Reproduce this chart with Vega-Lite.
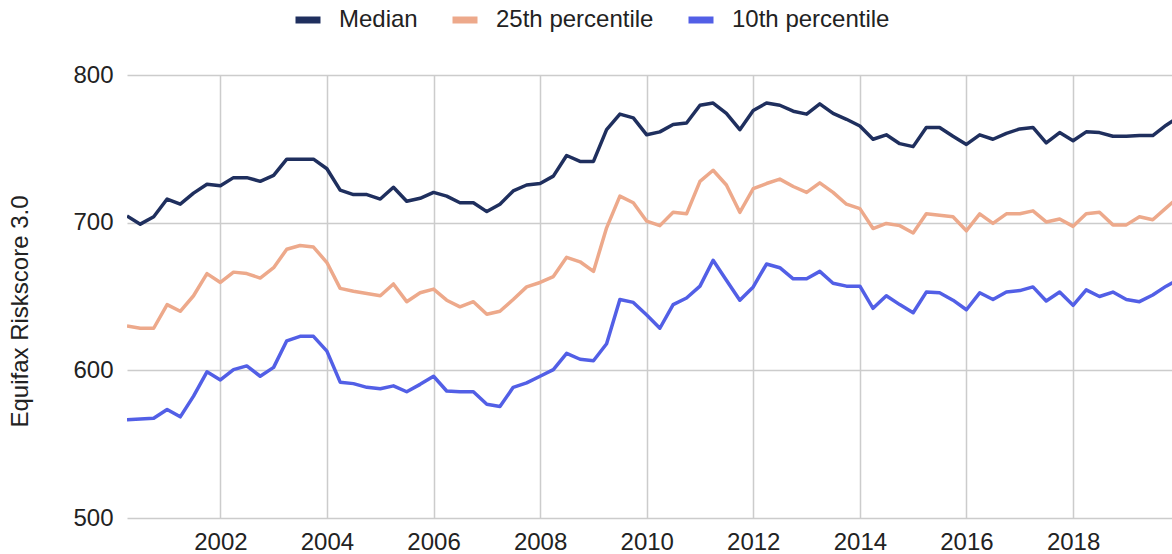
{
  "$schema": "https://vega.github.io/schema/vega-lite/v6.json",
  "width": 1045,
  "height": 443,
  "autosize": {"type": "none"},
  "padding": {"left": 127, "top": 75, "right": 0, "bottom": 36},
  "background": "white",
  "config": {
    "view": {"stroke": null},
    "font": "Liberation Sans",
    "axis": {"labelFont": "Liberation Sans", "titleFont": "Liberation Sans", "labelColor": "#222222", "titleColor": "#222222", "gridColor": "#cccccc", "gridWidth": 1.5}
  },
  "data": {
    "values": [
      {"date": "2000-04-01T00:00:00", "series": "Median", "value": 704.5},
      {"date": "2000-07-01T00:00:00", "series": "Median", "value": 699},
      {"date": "2000-10-01T00:00:00", "series": "Median", "value": 704},
      {"date": "2001-01-01T00:00:00", "series": "Median", "value": 716},
      {"date": "2001-04-01T00:00:00", "series": "Median", "value": 712.5},
      {"date": "2001-07-01T00:00:00", "series": "Median", "value": 720},
      {"date": "2001-10-01T00:00:00", "series": "Median", "value": 726},
      {"date": "2002-01-01T00:00:00", "series": "Median", "value": 725},
      {"date": "2002-04-01T00:00:00", "series": "Median", "value": 730.5},
      {"date": "2002-07-01T00:00:00", "series": "Median", "value": 730.5},
      {"date": "2002-10-01T00:00:00", "series": "Median", "value": 728},
      {"date": "2003-01-01T00:00:00", "series": "Median", "value": 732},
      {"date": "2003-04-01T00:00:00", "series": "Median", "value": 743},
      {"date": "2003-07-01T00:00:00", "series": "Median", "value": 743},
      {"date": "2003-10-01T00:00:00", "series": "Median", "value": 743},
      {"date": "2004-01-01T00:00:00", "series": "Median", "value": 736.5},
      {"date": "2004-04-01T00:00:00", "series": "Median", "value": 722},
      {"date": "2004-07-01T00:00:00", "series": "Median", "value": 719},
      {"date": "2004-10-01T00:00:00", "series": "Median", "value": 719},
      {"date": "2005-01-01T00:00:00", "series": "Median", "value": 716},
      {"date": "2005-04-01T00:00:00", "series": "Median", "value": 724},
      {"date": "2005-07-01T00:00:00", "series": "Median", "value": 714.5},
      {"date": "2005-10-01T00:00:00", "series": "Median", "value": 716.5},
      {"date": "2006-01-01T00:00:00", "series": "Median", "value": 720.5},
      {"date": "2006-04-01T00:00:00", "series": "Median", "value": 718},
      {"date": "2006-07-01T00:00:00", "series": "Median", "value": 713.5},
      {"date": "2006-10-01T00:00:00", "series": "Median", "value": 713.5},
      {"date": "2007-01-01T00:00:00", "series": "Median", "value": 707.5},
      {"date": "2007-04-01T00:00:00", "series": "Median", "value": 712.5},
      {"date": "2007-07-01T00:00:00", "series": "Median", "value": 721.5},
      {"date": "2007-10-01T00:00:00", "series": "Median", "value": 725.5},
      {"date": "2008-01-01T00:00:00", "series": "Median", "value": 726.5},
      {"date": "2008-04-01T00:00:00", "series": "Median", "value": 731.5},
      {"date": "2008-07-01T00:00:00", "series": "Median", "value": 745.5},
      {"date": "2008-10-01T00:00:00", "series": "Median", "value": 741.5},
      {"date": "2009-01-01T00:00:00", "series": "Median", "value": 741.5},
      {"date": "2009-04-01T00:00:00", "series": "Median", "value": 763},
      {"date": "2009-07-01T00:00:00", "series": "Median", "value": 773.5},
      {"date": "2009-10-01T00:00:00", "series": "Median", "value": 771},
      {"date": "2010-01-01T00:00:00", "series": "Median", "value": 759.5},
      {"date": "2010-04-01T00:00:00", "series": "Median", "value": 761.5},
      {"date": "2010-07-01T00:00:00", "series": "Median", "value": 766.5},
      {"date": "2010-10-01T00:00:00", "series": "Median", "value": 767.5},
      {"date": "2011-01-01T00:00:00", "series": "Median", "value": 779.5},
      {"date": "2011-04-01T00:00:00", "series": "Median", "value": 781},
      {"date": "2011-07-01T00:00:00", "series": "Median", "value": 774},
      {"date": "2011-10-01T00:00:00", "series": "Median", "value": 763},
      {"date": "2012-01-01T00:00:00", "series": "Median", "value": 776},
      {"date": "2012-04-01T00:00:00", "series": "Median", "value": 781},
      {"date": "2012-07-01T00:00:00", "series": "Median", "value": 779.5},
      {"date": "2012-10-01T00:00:00", "series": "Median", "value": 775.5},
      {"date": "2013-01-01T00:00:00", "series": "Median", "value": 773.5},
      {"date": "2013-04-01T00:00:00", "series": "Median", "value": 780.5},
      {"date": "2013-07-01T00:00:00", "series": "Median", "value": 774},
      {"date": "2013-10-01T00:00:00", "series": "Median", "value": 770},
      {"date": "2014-01-01T00:00:00", "series": "Median", "value": 765.5},
      {"date": "2014-04-01T00:00:00", "series": "Median", "value": 756.5},
      {"date": "2014-07-01T00:00:00", "series": "Median", "value": 759.5},
      {"date": "2014-10-01T00:00:00", "series": "Median", "value": 753.5},
      {"date": "2015-01-01T00:00:00", "series": "Median", "value": 751.5},
      {"date": "2015-04-01T00:00:00", "series": "Median", "value": 764.5},
      {"date": "2015-07-01T00:00:00", "series": "Median", "value": 764.5},
      {"date": "2015-10-01T00:00:00", "series": "Median", "value": 758.5},
      {"date": "2016-01-01T00:00:00", "series": "Median", "value": 753},
      {"date": "2016-04-01T00:00:00", "series": "Median", "value": 759.5},
      {"date": "2016-07-01T00:00:00", "series": "Median", "value": 756.5},
      {"date": "2016-10-01T00:00:00", "series": "Median", "value": 760.5},
      {"date": "2017-01-01T00:00:00", "series": "Median", "value": 763.5},
      {"date": "2017-04-01T00:00:00", "series": "Median", "value": 764.5},
      {"date": "2017-07-01T00:00:00", "series": "Median", "value": 754},
      {"date": "2017-10-01T00:00:00", "series": "Median", "value": 761},
      {"date": "2018-01-01T00:00:00", "series": "Median", "value": 755.5},
      {"date": "2018-04-01T00:00:00", "series": "Median", "value": 761.5},
      {"date": "2018-07-01T00:00:00", "series": "Median", "value": 761},
      {"date": "2018-10-01T00:00:00", "series": "Median", "value": 758.5},
      {"date": "2019-01-01T00:00:00", "series": "Median", "value": 758.5},
      {"date": "2019-04-01T00:00:00", "series": "Median", "value": 759},
      {"date": "2019-07-01T00:00:00", "series": "Median", "value": 759},
      {"date": "2019-10-01T00:00:00", "series": "Median", "value": 766},
      {"date": "2020-01-01T00:00:00", "series": "Median", "value": 772},
      {"date": "2000-04-01T00:00:00", "series": "25th percentile", "value": 630},
      {"date": "2000-07-01T00:00:00", "series": "25th percentile", "value": 628.5},
      {"date": "2000-10-01T00:00:00", "series": "25th percentile", "value": 628.5},
      {"date": "2001-01-01T00:00:00", "series": "25th percentile", "value": 644.5},
      {"date": "2001-04-01T00:00:00", "series": "25th percentile", "value": 640},
      {"date": "2001-07-01T00:00:00", "series": "25th percentile", "value": 650.5},
      {"date": "2001-10-01T00:00:00", "series": "25th percentile", "value": 665.5},
      {"date": "2002-01-01T00:00:00", "series": "25th percentile", "value": 659.5},
      {"date": "2002-04-01T00:00:00", "series": "25th percentile", "value": 666.5},
      {"date": "2002-07-01T00:00:00", "series": "25th percentile", "value": 665.5},
      {"date": "2002-10-01T00:00:00", "series": "25th percentile", "value": 662.5},
      {"date": "2003-01-01T00:00:00", "series": "25th percentile", "value": 669.5},
      {"date": "2003-04-01T00:00:00", "series": "25th percentile", "value": 682},
      {"date": "2003-07-01T00:00:00", "series": "25th percentile", "value": 684.5},
      {"date": "2003-10-01T00:00:00", "series": "25th percentile", "value": 683.5},
      {"date": "2004-01-01T00:00:00", "series": "25th percentile", "value": 673},
      {"date": "2004-04-01T00:00:00", "series": "25th percentile", "value": 655.5},
      {"date": "2004-07-01T00:00:00", "series": "25th percentile", "value": 653.5},
      {"date": "2004-10-01T00:00:00", "series": "25th percentile", "value": 652},
      {"date": "2005-01-01T00:00:00", "series": "25th percentile", "value": 650.5},
      {"date": "2005-04-01T00:00:00", "series": "25th percentile", "value": 658.5},
      {"date": "2005-07-01T00:00:00", "series": "25th percentile", "value": 646.5},
      {"date": "2005-10-01T00:00:00", "series": "25th percentile", "value": 652.5},
      {"date": "2006-01-01T00:00:00", "series": "25th percentile", "value": 655},
      {"date": "2006-04-01T00:00:00", "series": "25th percentile", "value": 647.5},
      {"date": "2006-07-01T00:00:00", "series": "25th percentile", "value": 643},
      {"date": "2006-10-01T00:00:00", "series": "25th percentile", "value": 646.5},
      {"date": "2007-01-01T00:00:00", "series": "25th percentile", "value": 638},
      {"date": "2007-04-01T00:00:00", "series": "25th percentile", "value": 640},
      {"date": "2007-07-01T00:00:00", "series": "25th percentile", "value": 648},
      {"date": "2007-10-01T00:00:00", "series": "25th percentile", "value": 656.5},
      {"date": "2008-01-01T00:00:00", "series": "25th percentile", "value": 659.5},
      {"date": "2008-04-01T00:00:00", "series": "25th percentile", "value": 663.5},
      {"date": "2008-07-01T00:00:00", "series": "25th percentile", "value": 676.5},
      {"date": "2008-10-01T00:00:00", "series": "25th percentile", "value": 673.5},
      {"date": "2009-01-01T00:00:00", "series": "25th percentile", "value": 667},
      {"date": "2009-04-01T00:00:00", "series": "25th percentile", "value": 696.5},
      {"date": "2009-07-01T00:00:00", "series": "25th percentile", "value": 718},
      {"date": "2009-10-01T00:00:00", "series": "25th percentile", "value": 713.5},
      {"date": "2010-01-01T00:00:00", "series": "25th percentile", "value": 701},
      {"date": "2010-04-01T00:00:00", "series": "25th percentile", "value": 698},
      {"date": "2010-07-01T00:00:00", "series": "25th percentile", "value": 707},
      {"date": "2010-10-01T00:00:00", "series": "25th percentile", "value": 706},
      {"date": "2011-01-01T00:00:00", "series": "25th percentile", "value": 728},
      {"date": "2011-04-01T00:00:00", "series": "25th percentile", "value": 735.5},
      {"date": "2011-07-01T00:00:00", "series": "25th percentile", "value": 725.5},
      {"date": "2011-10-01T00:00:00", "series": "25th percentile", "value": 707},
      {"date": "2012-01-01T00:00:00", "series": "25th percentile", "value": 723},
      {"date": "2012-04-01T00:00:00", "series": "25th percentile", "value": 726.5},
      {"date": "2012-07-01T00:00:00", "series": "25th percentile", "value": 729.5},
      {"date": "2012-10-01T00:00:00", "series": "25th percentile", "value": 724.5},
      {"date": "2013-01-01T00:00:00", "series": "25th percentile", "value": 720.5},
      {"date": "2013-04-01T00:00:00", "series": "25th percentile", "value": 727},
      {"date": "2013-07-01T00:00:00", "series": "25th percentile", "value": 720.5},
      {"date": "2013-10-01T00:00:00", "series": "25th percentile", "value": 712.5},
      {"date": "2014-01-01T00:00:00", "series": "25th percentile", "value": 709.5},
      {"date": "2014-04-01T00:00:00", "series": "25th percentile", "value": 696},
      {"date": "2014-07-01T00:00:00", "series": "25th percentile", "value": 699.5},
      {"date": "2014-10-01T00:00:00", "series": "25th percentile", "value": 698},
      {"date": "2015-01-01T00:00:00", "series": "25th percentile", "value": 693},
      {"date": "2015-04-01T00:00:00", "series": "25th percentile", "value": 706},
      {"date": "2015-07-01T00:00:00", "series": "25th percentile", "value": 705},
      {"date": "2015-10-01T00:00:00", "series": "25th percentile", "value": 704},
      {"date": "2016-01-01T00:00:00", "series": "25th percentile", "value": 694.5},
      {"date": "2016-04-01T00:00:00", "series": "25th percentile", "value": 706},
      {"date": "2016-07-01T00:00:00", "series": "25th percentile", "value": 699.5},
      {"date": "2016-10-01T00:00:00", "series": "25th percentile", "value": 706},
      {"date": "2017-01-01T00:00:00", "series": "25th percentile", "value": 706},
      {"date": "2017-04-01T00:00:00", "series": "25th percentile", "value": 708},
      {"date": "2017-07-01T00:00:00", "series": "25th percentile", "value": 700.5},
      {"date": "2017-10-01T00:00:00", "series": "25th percentile", "value": 702.5},
      {"date": "2018-01-01T00:00:00", "series": "25th percentile", "value": 697.5},
      {"date": "2018-04-01T00:00:00", "series": "25th percentile", "value": 706},
      {"date": "2018-07-01T00:00:00", "series": "25th percentile", "value": 707},
      {"date": "2018-10-01T00:00:00", "series": "25th percentile", "value": 698.5},
      {"date": "2019-01-01T00:00:00", "series": "25th percentile", "value": 698.5},
      {"date": "2019-04-01T00:00:00", "series": "25th percentile", "value": 704},
      {"date": "2019-07-01T00:00:00", "series": "25th percentile", "value": 702},
      {"date": "2019-10-01T00:00:00", "series": "25th percentile", "value": 710},
      {"date": "2020-01-01T00:00:00", "series": "25th percentile", "value": 718},
      {"date": "2000-04-01T00:00:00", "series": "10th percentile", "value": 566.5},
      {"date": "2000-07-01T00:00:00", "series": "10th percentile", "value": 567},
      {"date": "2000-10-01T00:00:00", "series": "10th percentile", "value": 567.5},
      {"date": "2001-01-01T00:00:00", "series": "10th percentile", "value": 573.5},
      {"date": "2001-04-01T00:00:00", "series": "10th percentile", "value": 568.5},
      {"date": "2001-07-01T00:00:00", "series": "10th percentile", "value": 582.5},
      {"date": "2001-10-01T00:00:00", "series": "10th percentile", "value": 599},
      {"date": "2002-01-01T00:00:00", "series": "10th percentile", "value": 593.5},
      {"date": "2002-04-01T00:00:00", "series": "10th percentile", "value": 600.5},
      {"date": "2002-07-01T00:00:00", "series": "10th percentile", "value": 603},
      {"date": "2002-10-01T00:00:00", "series": "10th percentile", "value": 596},
      {"date": "2003-01-01T00:00:00", "series": "10th percentile", "value": 602},
      {"date": "2003-04-01T00:00:00", "series": "10th percentile", "value": 620},
      {"date": "2003-07-01T00:00:00", "series": "10th percentile", "value": 623},
      {"date": "2003-10-01T00:00:00", "series": "10th percentile", "value": 623},
      {"date": "2004-01-01T00:00:00", "series": "10th percentile", "value": 613},
      {"date": "2004-04-01T00:00:00", "series": "10th percentile", "value": 592},
      {"date": "2004-07-01T00:00:00", "series": "10th percentile", "value": 591},
      {"date": "2004-10-01T00:00:00", "series": "10th percentile", "value": 588.5},
      {"date": "2005-01-01T00:00:00", "series": "10th percentile", "value": 587.5},
      {"date": "2005-04-01T00:00:00", "series": "10th percentile", "value": 589.5},
      {"date": "2005-07-01T00:00:00", "series": "10th percentile", "value": 585.5},
      {"date": "2005-10-01T00:00:00", "series": "10th percentile", "value": 590.5},
      {"date": "2006-01-01T00:00:00", "series": "10th percentile", "value": 596},
      {"date": "2006-04-01T00:00:00", "series": "10th percentile", "value": 586},
      {"date": "2006-07-01T00:00:00", "series": "10th percentile", "value": 585.5},
      {"date": "2006-10-01T00:00:00", "series": "10th percentile", "value": 585.5},
      {"date": "2007-01-01T00:00:00", "series": "10th percentile", "value": 577},
      {"date": "2007-04-01T00:00:00", "series": "10th percentile", "value": 575.5},
      {"date": "2007-07-01T00:00:00", "series": "10th percentile", "value": 588.5},
      {"date": "2007-10-01T00:00:00", "series": "10th percentile", "value": 591.5},
      {"date": "2008-01-01T00:00:00", "series": "10th percentile", "value": 596},
      {"date": "2008-04-01T00:00:00", "series": "10th percentile", "value": 600.5},
      {"date": "2008-07-01T00:00:00", "series": "10th percentile", "value": 611.5},
      {"date": "2008-10-01T00:00:00", "series": "10th percentile", "value": 607.5},
      {"date": "2009-01-01T00:00:00", "series": "10th percentile", "value": 606.5},
      {"date": "2009-04-01T00:00:00", "series": "10th percentile", "value": 618},
      {"date": "2009-07-01T00:00:00", "series": "10th percentile", "value": 648},
      {"date": "2009-10-01T00:00:00", "series": "10th percentile", "value": 646},
      {"date": "2010-01-01T00:00:00", "series": "10th percentile", "value": 637.5},
      {"date": "2010-04-01T00:00:00", "series": "10th percentile", "value": 628.5},
      {"date": "2010-07-01T00:00:00", "series": "10th percentile", "value": 644.5},
      {"date": "2010-10-01T00:00:00", "series": "10th percentile", "value": 649},
      {"date": "2011-01-01T00:00:00", "series": "10th percentile", "value": 657},
      {"date": "2011-04-01T00:00:00", "series": "10th percentile", "value": 674.5},
      {"date": "2011-07-01T00:00:00", "series": "10th percentile", "value": 661},
      {"date": "2011-10-01T00:00:00", "series": "10th percentile", "value": 647.5},
      {"date": "2012-01-01T00:00:00", "series": "10th percentile", "value": 656.5},
      {"date": "2012-04-01T00:00:00", "series": "10th percentile", "value": 672},
      {"date": "2012-07-01T00:00:00", "series": "10th percentile", "value": 669.5},
      {"date": "2012-10-01T00:00:00", "series": "10th percentile", "value": 662},
      {"date": "2013-01-01T00:00:00", "series": "10th percentile", "value": 662},
      {"date": "2013-04-01T00:00:00", "series": "10th percentile", "value": 667},
      {"date": "2013-07-01T00:00:00", "series": "10th percentile", "value": 659},
      {"date": "2013-10-01T00:00:00", "series": "10th percentile", "value": 657},
      {"date": "2014-01-01T00:00:00", "series": "10th percentile", "value": 657},
      {"date": "2014-04-01T00:00:00", "series": "10th percentile", "value": 642},
      {"date": "2014-07-01T00:00:00", "series": "10th percentile", "value": 650.5},
      {"date": "2014-10-01T00:00:00", "series": "10th percentile", "value": 644.5},
      {"date": "2015-01-01T00:00:00", "series": "10th percentile", "value": 639},
      {"date": "2015-04-01T00:00:00", "series": "10th percentile", "value": 653},
      {"date": "2015-07-01T00:00:00", "series": "10th percentile", "value": 652.5},
      {"date": "2015-10-01T00:00:00", "series": "10th percentile", "value": 647.5},
      {"date": "2016-01-01T00:00:00", "series": "10th percentile", "value": 641},
      {"date": "2016-04-01T00:00:00", "series": "10th percentile", "value": 652.5},
      {"date": "2016-07-01T00:00:00", "series": "10th percentile", "value": 648},
      {"date": "2016-10-01T00:00:00", "series": "10th percentile", "value": 653},
      {"date": "2017-01-01T00:00:00", "series": "10th percentile", "value": 654},
      {"date": "2017-04-01T00:00:00", "series": "10th percentile", "value": 656.5},
      {"date": "2017-07-01T00:00:00", "series": "10th percentile", "value": 647},
      {"date": "2017-10-01T00:00:00", "series": "10th percentile", "value": 653},
      {"date": "2018-01-01T00:00:00", "series": "10th percentile", "value": 644},
      {"date": "2018-04-01T00:00:00", "series": "10th percentile", "value": 654.5},
      {"date": "2018-07-01T00:00:00", "series": "10th percentile", "value": 650},
      {"date": "2018-10-01T00:00:00", "series": "10th percentile", "value": 653},
      {"date": "2019-01-01T00:00:00", "series": "10th percentile", "value": 648},
      {"date": "2019-04-01T00:00:00", "series": "10th percentile", "value": 646.5},
      {"date": "2019-07-01T00:00:00", "series": "10th percentile", "value": 651},
      {"date": "2019-10-01T00:00:00", "series": "10th percentile", "value": 657},
      {"date": "2020-01-01T00:00:00", "series": "10th percentile", "value": 662}
    ]
  },
  "mark": {"type": "line", "strokeWidth": 3.5, "strokeJoin": "round", "clip": true},
  "encoding": {
    "x": {
      "field": "date",
      "type": "temporal",
      "scale": {"domain": [{"year": 2000, "month": 4, "date": 1}, {"year": 2019, "month": 11, "date": 10}]},
      "axis": {
        "title": null,
        "values": [{"year": 2002}, {"year": 2004}, {"year": 2006}, {"year": 2008}, {"year": 2010}, {"year": 2012}, {"year": 2014}, {"year": 2016}, {"year": 2018}],
        "format": "%Y",
        "ticks": false,
        "domain": false,
        "grid": true,
        "labelFontSize": 24,
        "labelPadding": 12
      }
    },
    "y": {
      "field": "value",
      "type": "quantitative",
      "scale": {"domain": [500, 800], "nice": false, "zero": false},
      "axis": {
        "title": "Equifax Riskscore 3.0",
        "values": [500, 600, 700, 800],
        "ticks": false,
        "domain": false,
        "grid": true,
        "labelFontSize": 24,
        "labelPadding": 14,
        "titleFontSize": 24,
        "titleFontWeight": "normal",
        "titleAngle": 270,
        "titleX": -107,
        "titleY": 236,
        "titleAlign": "center",
        "titleBaseline": "middle"
      }
    },
    "color": {
      "field": "series",
      "type": "nominal",
      "sort": ["Median", "25th percentile", "10th percentile"],
      "scale": {"domain": ["Median", "25th percentile", "10th percentile"], "range": ["#1f2f5e", "#eda98b", "#525fe6"]},
      "legend": {
        "title": null,
        "orient": "none",
        "direction": "horizontal",
        "legendX": 165,
        "legendY": -71,
        "padding": 0,
        "symbolType": "stroke",
        "symbolSize": 625,
        "symbolStrokeWidth": 7,
        "labelFontSize": 24,
        "labelFont": "Liberation Sans",
        "labelColor": "#222222",
        "labelOffset": 15,
        "columnPadding": 20
      }
    }
  }
}
